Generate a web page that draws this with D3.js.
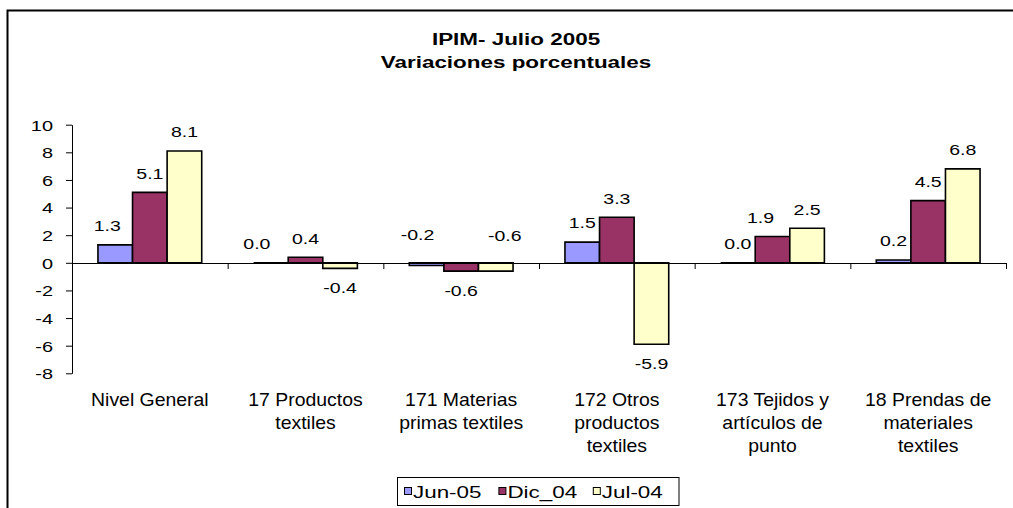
<!DOCTYPE html>
<html>
<head>
<meta charset="utf-8">
<script src="https://cdn.jsdelivr.net/npm/d3@7"></script>
<style>
  body { margin: 0; background: #fff; }
  text { font-family: Arial, "Liberation Sans", sans-serif; fill: #000; }
</style>
</head>
<body>
<svg id="chart" width="1013" height="508"></svg>
<script>
var titleLines = ["IPIM- Julio 2005", "Variaciones porcentuales"];
var categories = ["Nivel General", "17 Productos\ntextiles", "171 Materias\nprimas textiles",
  "172 Otros\nproductos\ntextiles", "173 Tejidos y\nartículos de\npunto", "18 Prendas de\nmateriales\ntextiles"];
var seriesNames = ["Jun-05", "Dic_04", "Jul-04"];
var jun05 = [1.3, 0.0, -0.2, 1.5, 0.0, 0.2];
var dic04 = [5.1, 0.4, -0.6, 3.3, 1.9, 4.5];
var jul04 = [8.1, -0.4, -0.6, -5.9, 2.5, 6.8];
var yTicks = [-8, -6, -4, -2, 0, 2, 4, 6, 8, 10];

var seriesValues = [jun05, dic04, jul04];
var colors = ["#9999ff", "#993366", "#ffffcc"];

// labels that were dragged by hand in the original sheet
var labelNudge = [
  { s: 0, c: 0, dx: -8, dy: 0 },
  { s: 0, c: 1, dx: -14, dy: 0 },
  { s: 0, c: 2, dx: -9, dy: -9, above: true },
  { s: 2, c: 2, dx: 9, dy: -8, above: true },
  { s: 1, c: 4, dx: -12, dy: 0 }
];

var loc = d3.formatLocale({ decimal: ".", thousands: ",", grouping: [3], currency: ["", ""], minus: "-" });
var fmt1 = loc.format(".1f");
var fmt0 = loc.format("d");

var svg = d3.select("#chart");

// text glyphs in the original are stretched sideways
function place(sel, x, y, sx) {
  return sel.attr("transform", "translate(" + x + "," + y + ") scale(" + sx + ",1)");
}

// outer frame (cut off at right and bottom)
svg.append("rect")
  .attr("x", 7.5).attr("y", 10.5)
  .attr("width", 1100).attr("height", 600)
  .attr("fill", "none").attr("stroke", "#000").attr("stroke-width", 2);

var title = svg.append("g");
titleLines.forEach(function(t, i) {
  place(title.append("text"), 516, 45 + i * 22.5, 1.32)
    .attr("text-anchor", "middle")
    .style("font-size", "17px").style("font-weight", "bold")
    .text(t);
});

var y = d3.scaleLinear().domain([-8, 10]).range([373.3, 124.7]);
var x0 = d3.scaleBand().domain(d3.range(categories.length)).range([72, 1006]);
var x1 = d3.scaleBand().domain(d3.range(seriesNames.length))
  .range([0, x0.bandwidth()]).paddingOuter(0.75).paddingInner(0);
var xEdge = d3.scaleLinear().domain([0, categories.length]).range([72, 1006]);

// y axis
var yAxis = svg.append("g").attr("transform", "translate(72,0)")
  .call(d3.axisLeft(y).tickValues(yTicks).tickSize(6).tickSizeOuter(0).tickFormat(fmt0));
yAxis.select(".domain").attr("stroke", "#000");
yAxis.selectAll(".tick line").attr("stroke", "#000");
yAxis.selectAll(".tick text").each(function() {
  place(d3.select(this).attr("x", null).attr("dy", "0.36em"), -19, 0, 1.33)
    .attr("text-anchor", "end")
    .style("font-size", "15px");
});
yAxis.attr("font-family", null).attr("font-size", null);

// bars
var bars = [];
seriesValues.forEach(function(vals, s) {
  vals.forEach(function(v, c) { bars.push({ s: s, c: c, v: v }); });
});

svg.append("g").selectAll("path").data(bars).enter().append("path")
  .attr("d", function(d) {
    var bx = x0(d.c) + x1(d.s), w = x1.bandwidth();
    var top = y(Math.max(0, d.v)), bot = y(Math.min(0, d.v));
    return "M" + bx + "," + top + "H" + (bx + w) + "V" + bot + "H" + bx + "Z";
  })
  .attr("fill", function(d) { return colors[d.s]; })
  .attr("stroke", "#000").attr("stroke-width", 1.6);

// category axis on zero
var xAxis = svg.append("g").attr("transform", "translate(0," + Math.round(y(0)) + ")")
  .call(d3.axisBottom(xEdge).tickValues(d3.range(categories.length + 1)).tickSize(6).tickSizeOuter(0).tickFormat(""));
xAxis.select(".domain").attr("stroke", "#000");
xAxis.selectAll(".tick line").attr("stroke", "#000");

// data labels
var labels = svg.append("g");
bars.forEach(function(d) {
  var n = labelNudge.find(function(k) { return k.s === d.s && k.c === d.c; }) || { dx: 0, dy: 0 };
  var cx = x0(d.c) + x1(d.s) + x1.bandwidth() / 2 + n.dx;
  var cy = (d.v >= 0 || n.above) ? y(Math.max(0, d.v)) - 19 : y(d.v) + 19;
  place(labels.append("text"), cx, cy + n.dy, 1.3)
    .attr("text-anchor", "middle").attr("dy", "0.36em")
    .style("font-size", "15px")
    .text(fmt1(d.v));
});

// category labels
var cats = svg.append("g");
categories.forEach(function(name, c) {
  name.split("\n").forEach(function(line, i) {
    place(cats.append("text"), x0(c) + x0.bandwidth() / 2, 406 + i * 23, 1.11)
      .attr("text-anchor", "middle")
      .style("font-size", "17.5px")
      .text(line);
  });
});

// legend
var legend = svg.append("g");
legend.append("rect")
  .attr("x", 397.5).attr("y", 477.5).attr("width", 281.5).attr("height", 28)
  .attr("fill", "none").attr("stroke", "#000").attr("stroke-width", 1);
seriesNames.forEach(function(name, i) {
  var lx = 404 + i * 94.4;
  legend.append("rect")
    .attr("x", lx + 0.5).attr("y", 487.5).attr("width", 7).attr("height", 7)
    .attr("fill", colors[i]).attr("stroke", "#000").attr("stroke-width", 1);
  place(legend.append("text"), lx + 9, 498, 1.4)
    .style("font-size", "16px")
    .text(name);
});
</script>
</body>
</html>
